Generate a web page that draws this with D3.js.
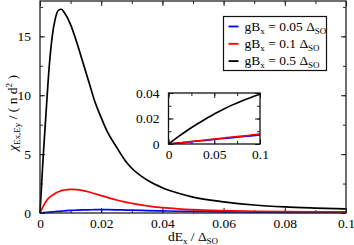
<!DOCTYPE html>
<meta charset="utf-8">
<style>
  body { margin: 0; background: white; }
  svg text { font-family: "Liberation Serif", "DejaVu Serif", serif !important; fill: black; }
</style>
<script src="https://d3js.org/d3.v7.min.js"></script>
<svg id="chart" width="354" height="245"></svg>
<script>
// main panel data (x = dE_x / Delta_SO)
const xMain = [0, 0.001, 0.002, 0.003, 0.004, 0.005, 0.006, 0.007, 0.008, 0.010, 0.012, 0.014, 0.016, 0.018, 0.020,
               0.022, 0.025, 0.028, 0.030, 0.035, 0.040, 0.045, 0.050, 0.060, 0.070, 0.080, 0.090, 0.100];
const blackMain = [0, 4.6, 8.6, 12.4, 15.0, 16.5, 17.2, 17.3, 17.0, 16.0, 14.5, 12.8, 11.1, 9.4, 8.1,
                   6.9, 5.6, 4.4, 3.8, 2.8, 2.15, 1.7, 1.35, 0.95, 0.68, 0.52, 0.42, 0.34];
const redMain = [0, 0.55, 1.0, 1.3, 1.5, 1.68, 1.8, 1.9, 1.95, 2.0, 1.98, 1.9, 1.78, 1.63, 1.48,
                 1.33, 1.1, 0.92, 0.82, 0.6, 0.45, 0.35, 0.28, 0.2, 0.15, 0.12, 0.1, 0.09];
const blueMain = [0, 0.03, 0.05, 0.07, 0.09, 0.12, 0.14, 0.16, 0.18, 0.22, 0.24, 0.26, 0.27, 0.28, 0.28,
                  0.28, 0.27, 0.25, 0.24, 0.21, 0.18, 0.15, 0.13, 0.1, 0.08, 0.06, 0.05, 0.045];

// inset data
const xInset = [0, 0.01, 0.02, 0.03, 0.04, 0.05, 0.06, 0.07, 0.08, 0.09, 0.1];
const blackInset = [0, 0.0054, 0.0104, 0.0151, 0.0194, 0.0235, 0.0272, 0.0307, 0.0338, 0.0365, 0.039];
const redInset = [0, 0.0008, 0.0016, 0.0024, 0.0031, 0.0039, 0.0047, 0.0055, 0.0062, 0.0070, 0.0078];
const blueInset = [0, 0.0007, 0.0014, 0.0021, 0.0028, 0.0036, 0.0043, 0.0050, 0.0057, 0.0064, 0.0071];

const seriesNames = ["0.05", "0.1", "0.5"];
const seriesColors = ["#0000ff", "#ff0000", "#000000"];

const mainXTicks = [0, 0.02, 0.04, 0.06, 0.08, 0.1];
const mainXLabels = ["0", "0.02", "0.04", "0.06", "0.08", "0.1"];
const mainYTicks = [0, 5, 10, 15];
const insetXTicks = [0, 0.05, 0.1];
const insetXLabels = ["0", "0.05", "0.1"];
const insetYTicks = [0, 0.02, 0.04];
const insetYLabels = ["0", "0.02", "0.04"];

const svg = d3.select("#chart");

function panel(g, w, h, xDom, yDom, xT, xMinor, xLab, yT, yMinor, yLab, fs) {
  const x = d3.scaleLinear().domain(xDom).range([0, w]);
  const y = d3.scaleLinear().domain(yDom).range([h, 0]);

  const axes = [
    [d3.axisBottom(x), `translate(0,${h})`, xT, xMinor, xLab],
    [d3.axisTop(x), `translate(0,0)`, xT, xMinor, null],
    [d3.axisLeft(y), `translate(0,0)`, yT, yMinor, yLab],
    [d3.axisRight(y), `translate(${w},0)`, yT, yMinor, null]
  ];
  axes.forEach(([ax, tr, ticks, minor, labels]) => {
    // minor ticks
    g.append("g").attr("transform", tr)
      .call(ax.tickValues(minor).tickSize(-3).tickFormat(""))
      .call(s => s.select(".domain").remove())
      .selectAll("line").attr("stroke", "#222");
    g.append("g").attr("transform", tr)
      .call(ax.tickValues(ticks).tickSize(-5).tickPadding(9)
        .tickFormat((d, i) => labels ? labels[i] : ""))
      .call(s => s.select(".domain").remove())
      .call(s => s.selectAll("line").attr("stroke", "#222"))
      .selectAll("text")
        .style("font-size", fs + "px");
  });
  return { x, y };
}

function drawLines(g, sc, xs, ys, color, width) {
  const line = d3.line()
    .x((d, i) => sc.x(xs[i]))
    .y(d => sc.y(d))
    .curve(d3.curveMonotoneX);
  g.append("path").datum(ys)
    .attr("fill", "none")
    .attr("stroke", color)
    .attr("stroke-width", width)
    .attr("d", line);
}

// main panel
const mW = 306, mH = 212;
const main = svg.append("g").attr("transform", "translate(40,1)");
const ms = panel(main, mW, mH, [0, 0.1], [0, 18],
  mainXTicks, d3.range(0, 0.1001, 0.01), mainXLabels,
  mainYTicks, d3.range(0, 18.01, 2.5), mainYTicks.map(String), 13.5);
main.selectAll(".tick text").filter(function() { return this.parentNode.parentNode.getAttribute("transform") === `translate(0,${mH})`; })
  .attr("y", 5);

drawLines(main, ms, xMain, blueMain, seriesColors[0], 1.7);
drawLines(main, ms, xMain, redMain, seriesColors[1], 1.7);
drawLines(main, ms, xMain, blackMain, seriesColors[2], 1.7);

main.append("rect").attr("width", mW).attr("height", mH)
  .attr("fill", "none").attr("stroke", "#222").attr("stroke-width", 1.3);

// inset
const iW = 91.5, iH = 51;
const inset = svg.append("g").attr("transform", "translate(168.5,93)");
inset.append("rect").attr("width", iW).attr("height", iH).attr("fill", "white");
const is = panel(inset, iW, iH, [0, 0.1], [0, 0.04],
  insetXTicks, d3.range(0, 0.1001, 0.025), insetXLabels,
  insetYTicks, d3.range(0, 0.0401, 0.01), insetYLabels, 13.5);
inset.selectAll(".tick text").filter(function() { return this.parentNode.parentNode.getAttribute("transform") === `translate(0,${iH})`; })
  .attr("y", 5);
drawLines(inset, is, xInset, blueInset, seriesColors[0], 1.6);
drawLines(inset, is, xInset, redInset, seriesColors[1], 1.6);
drawLines(inset, is, xInset, blackInset, seriesColors[2], 1.6);
inset.append("rect").attr("width", iW).attr("height", iH)
  .attr("fill", "none").attr("stroke", "#111").attr("stroke-width", 1.3);

// legend
const leg = svg.append("g").attr("transform", "translate(223.5,16.5)");
leg.append("rect").attr("width", 103).attr("height", 54)
  .attr("fill", "white").attr("stroke", "#111").attr("stroke-width", 1.2);
seriesNames.forEach((n, i) => {
  const yy = 10 + i * 17.3;
  leg.append("line").attr("x1", 5).attr("x2", 15).attr("y1", yy).attr("y2", yy)
    .attr("stroke", seriesColors[i]).attr("stroke-width", 1.8);
  const t = leg.append("text").attr("x", 21).attr("y", yy + 4).style("font-size", "13.5px");
  t.append("tspan").text("gB");
  t.append("tspan").attr("dy", 3).style("font-size", "9px").text("x");
  t.append("tspan").attr("dy", -3).text(" = " + n + " \u0394");
  t.append("tspan").attr("dy", 3).style("font-size", "9px").text("SO");
});

// axis titles
const xt = svg.append("text").attr("x", 193).attr("y", 241)
  .attr("text-anchor", "middle").style("font-size", "13.5px");
xt.append("tspan").text("dE");
xt.append("tspan").attr("dy", 3).style("font-size", "9px").text("x");
xt.append("tspan").attr("dy", -3).text(" / \u0394");
xt.append("tspan").attr("dy", 3).style("font-size", "9px").text("SO");

const yt = svg.append("text").attr("transform", "translate(17,113) rotate(-90)")
  .attr("text-anchor", "middle").style("font-size", "13.5px");
yt.append("tspan").style("font-style", "italic").text("\u03c7");
yt.append("tspan").attr("dy", 3).style("font-size", "9px").text("Ex,Ey");
yt.append("tspan").attr("dy", -3).text(" / ( n d");
yt.append("tspan").attr("dy", -5).style("font-size", "9px").text("2");
yt.append("tspan").attr("dy", 5).text(" )");
</script>
